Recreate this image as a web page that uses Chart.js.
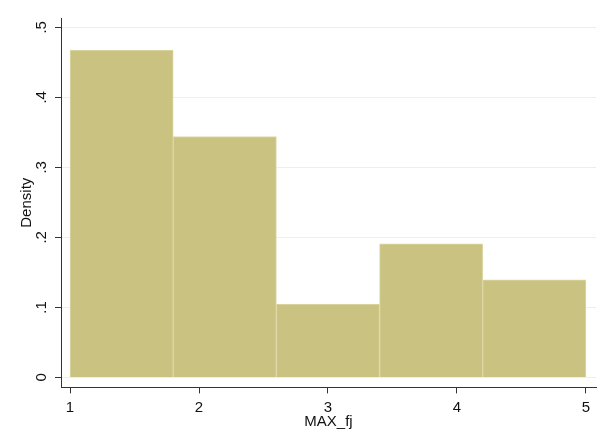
<!DOCTYPE html>
<html lang="en">
<head>
    <meta charset="UTF-8">
    <title>MAX_fj histogram</title>
    <script src="https://cdn.jsdelivr.net/npm/chart.js"></script>
    <style>
        body { margin: 0; background: #fff; }
        #wrap { width: 605px; height: 438px; }
    </style>
</head>
<body>
    <div id="wrap"><canvas id="histChart" width="605" height="438"></canvas></div>

    <script>
        // bin centres (width 0.8, from 1 to 5) and density of each bin
        const binCenters = [1.4, 2.2, 3.0, 3.8, 4.6];
        const densities = [0.4676, 0.344, 0.1047, 0.1909, 0.1395];
        const xTicks = [1, 2, 3, 4, 5];
        const yTicks = [0, 0.1, 0.2, 0.3, 0.4, 0.5];

        const fontFamily = "'Liberation Sans', Arial, sans-serif";

        function fmtY(v) {
            if (Math.abs(v) < 1e-9) return '0';
            return v.toFixed(1).replace(/^0/, '');
        }

        // y tick labels and title are rotated in Stata style, draw them ourselves
        const yLabels = {
            id: 'yLabels',
            afterDraw(chart) {
                const ctx = chart.ctx;
                const y = chart.scales.y;
                const area = chart.chartArea;
                ctx.save();
                ctx.fillStyle = '#111';
                ctx.font = '15px ' + fontFamily;
                ctx.textAlign = 'center';
                ctx.textBaseline = 'middle';
                yTicks.forEach(t => {
                    const py = y.getPixelForValue(t);
                    ctx.save();
                    ctx.translate(area.left - 19, py);
                    ctx.rotate(-Math.PI / 2);
                    ctx.fillText(fmtY(t), 0, 0);
                    ctx.restore();
                });
                ctx.translate(27, (area.top + area.bottom) / 2);
                ctx.rotate(-Math.PI / 2);
                ctx.fillText('Density', 0, 0);
                ctx.restore();
            }
        };

        new Chart(document.getElementById('histChart'), {
            type: 'bar',
            data: {
                datasets: [{
                    data: binCenters.map((c, i) => ({ x: c, y: densities[i] })),
                    backgroundColor: '#cac280',
                    borderColor: '#dcd8a8',
                    borderWidth: 1,
                    barPercentage: 1,
                    categoryPercentage: 1
                }]
            },
            options: {
                responsive: false,
                animation: false,
                layout: { padding: { left: 55, right: 9, top: 18, bottom: 10 } },
                plugins: { legend: { display: false }, tooltip: { enabled: false } },
                scales: {
                    x: {
                        type: 'linear',
                        offset: false,
                        min: 0.93,
                        max: 5.078,
                        afterBuildTicks: s => { s.ticks = xTicks.map(v => ({ value: v })); },
                        grid: { offset: false, drawOnChartArea: false, tickLength: 6, tickColor: '#333' },
                        border: { color: '#333', width: 1 },
                        ticks: { color: '#111', font: { family: fontFamily, size: 15 }, padding: 5, maxRotation: 0 },
                        title: {
                            display: true, text: 'MAX_fj', color: '#111',
                            font: { family: fontFamily, size: 15, lineHeight: 0.8 },
                            padding: { top: -5.4, bottom: 0 }
                        }
                    },
                    y: {
                        min: -0.0143,
                        max: 0.5133,
                        afterBuildTicks: s => { s.ticks = yTicks.map(v => ({ value: v })); },
                        grid: { color: '#eaf0f2', tickLength: 6, tickColor: '#333' },
                        border: { color: '#333', width: 1 },
                        ticks: { display: false }
                    }
                }
            },
            plugins: [yLabels]
        });
    </script>
</body>
</html>
